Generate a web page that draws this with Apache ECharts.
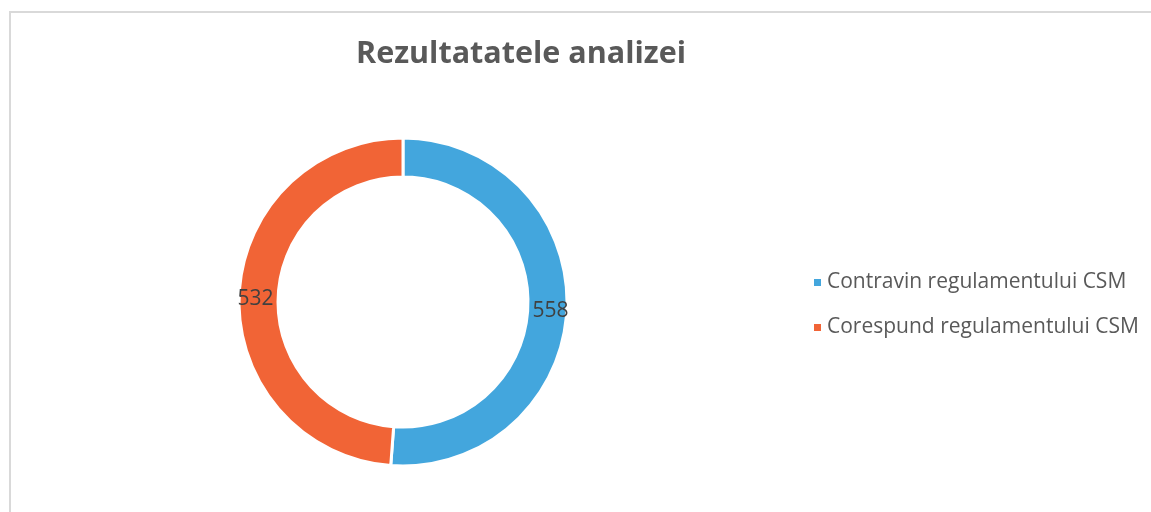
<!DOCTYPE html>
<html>
<head>
<meta charset="utf-8">
<script src="https://cdn.jsdelivr.net/npm/echarts@6/dist/echarts.min.js"></script>
<style>
  html, body { margin: 0; padding: 0; background: #fff; }
  #frame {
    position: absolute; left: 9px; top: 11px; width: 1200px; height: 560px;
    border-top: 2px solid #d9d9d9; border-left: 2px solid #d9d9d9;
  }
  #chart { position: absolute; left: 0; top: 0; width: 1151px; height: 512px; }
</style>
</head>
<body>
<div id="frame"></div>
<div id="chart"></div>
<script>
const categories = ['Contravin regulamentului CSM', 'Corespund regulamentului CSM'];
const values = [558, 532];
const colors = ['#43A6DD', '#F16436'];

const chartDom = document.getElementById('chart');
const myChart = echarts.init(chartDom);

const option = {
    title: {
        text: 'Rezultatatele analizei',
        left: 516,
        top: 34,
        textAlign: 'center',
        textStyle: {
            fontFamily: 'Open Sans',
            fontWeight: 'bold',
            fontSize: 30.5,
            color: '#595959'
        }
    },
    legend: {
        orient: 'vertical',
        left: 807,
        top: 267,
        itemWidth: 9,
        itemHeight: 9,
        itemGap: 24,
        icon: 'rect',
        textStyle: {
            fontFamily: 'Open Sans',
            fontSize: 21,
            color: '#595959'
        },
        data: categories
    },
    series: [
        {
            type: 'pie',
            center: [403, 302],
            radius: [125, 164],
            startAngle: 90,
            clockwise: true,
            animation: false,
            itemStyle: {
                borderColor: '#fff',
                borderWidth: 3
            },
            label: {
                show: true,
                position: 'inside',
                formatter: '{c}',
                fontFamily: 'Open Sans',
                fontSize: 21,
                color: '#404040',
                offset: [0, 3]
            },
            labelLine: { show: false },
            data: categories.map((name, i) => ({
                name,
                value: values[i],
                itemStyle: { color: colors[i] }
            }))
        }
    ]
};

option && myChart.setOption(option);
</script>
</body>
</html>
